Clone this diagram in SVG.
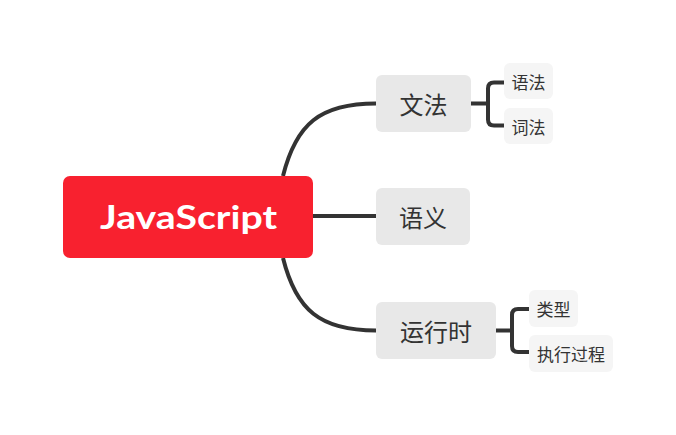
<svg xmlns="http://www.w3.org/2000/svg" width="676" height="435" viewBox="0 0 676 435">
<style>
.conn{fill:none;stroke:#333;stroke-width:4;stroke-linecap:butt;stroke-linejoin:round}
.mid{fill:#E8E8E8}
.sub{fill:#F5F5F5}
.t2{font-family:"Noto Sans CJK SC","Noto Sans",sans-serif;font-size:24px;fill:#333;text-anchor:middle;dominant-baseline:central}
.t3{font-family:"Noto Sans CJK SC","Noto Sans",sans-serif;font-size:17px;fill:#333;text-anchor:middle;dominant-baseline:central}
</style>
<rect width="676" height="435" fill="#fff"/>
<g id="connectors">
<path class="conn" d="M283,176 C296,124 320,103.5 376,103.5"/>
<path class="conn" d="M313,216 H376"/>
<path class="conn" d="M283,258 C296,310 320,330.5 376,330.5"/>
<path class="conn" d="M471,103.5 H488 M504,82.5 H494 Q488,82.5 488,88.5 V119.5 Q488,125.5 494,125.5 H504"/>
<path class="conn" d="M496,330.5 H512 M529,309 H518 Q512,309 512,315 V346 Q512,352 518,352 H529"/>
</g>
<g id="root">
<rect x="63" y="176" width="250" height="82" rx="7" fill="#F8212F"/>
<text x="188.5" y="216" font-family="Lato,'Open Sans',sans-serif" font-weight="bold" font-size="33" fill="#fff" text-anchor="middle" dominant-baseline="central" textLength="177" lengthAdjust="spacingAndGlyphs">JavaScript</text>
</g>
<g id="wenfa">
<rect class="mid" x="376" y="75" width="95" height="57" rx="6"/>
<text class="t2" x="423.5" y="103.5">文法</text>
</g>
<g id="yuyi">
<rect class="mid" x="376" y="188" width="94" height="57" rx="6"/>
<text class="t2" x="423" y="216.5">语义</text>
</g>
<g id="yunxingshi">
<rect class="mid" x="376" y="302" width="120" height="57" rx="6"/>
<text class="t2" x="436" y="330.5">运行时</text>
</g>
<g id="yufa">
<rect class="sub" x="504" y="63" width="49" height="36" rx="6"/>
<text class="t3" x="528.5" y="81">语法</text>
</g>
<g id="cifa">
<rect class="sub" x="504" y="108" width="49" height="36" rx="6"/>
<text class="t3" x="528.5" y="126">词法</text>
</g>
<g id="leixing">
<rect class="sub" x="529" y="290" width="49" height="37" rx="6"/>
<text class="t3" x="553.5" y="308.5">类型</text>
</g>
<g id="zhixingguocheng">
<rect class="sub" x="529" y="335" width="84" height="37" rx="6"/>
<text class="t3" x="571" y="353.5">执行过程</text>
</g>
</svg>
